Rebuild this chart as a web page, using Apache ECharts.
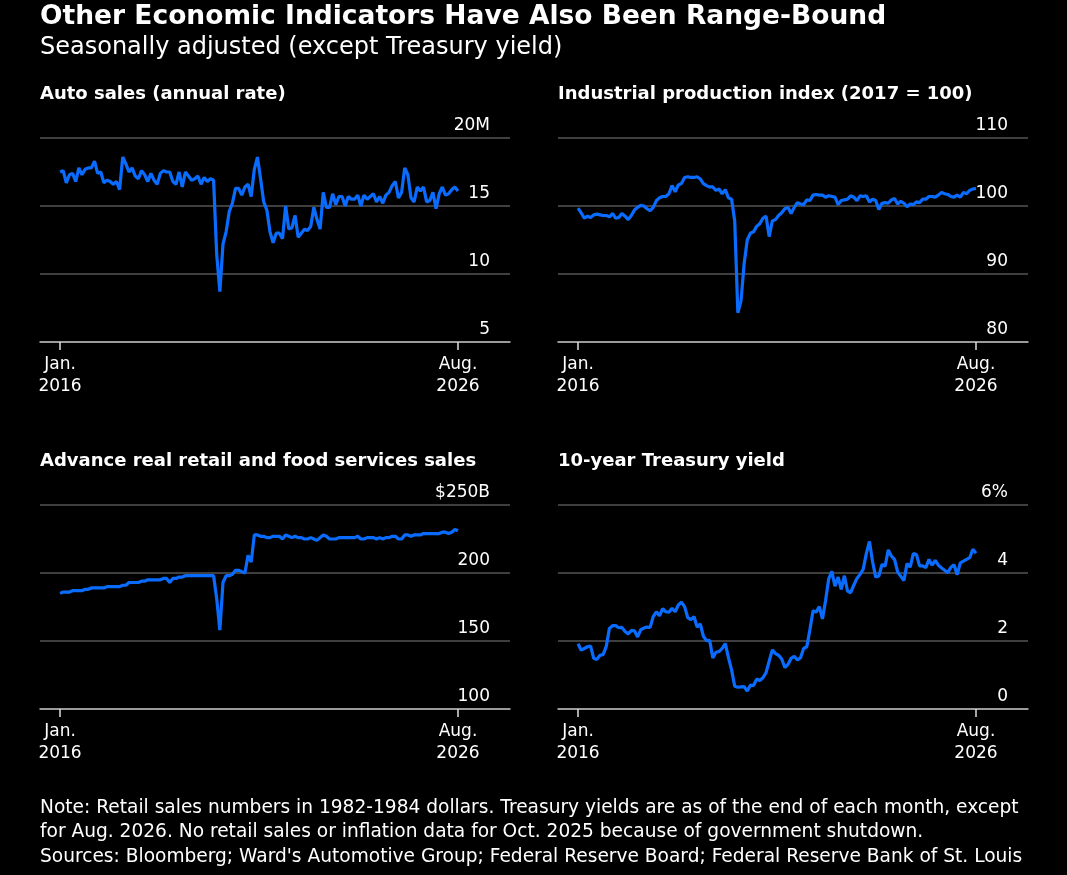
<!DOCTYPE html>
<html><head><meta charset="utf-8">
<script src="https://cdn.jsdelivr.net/npm/echarts@6/dist/echarts.min.js"></script>
<style>html,body{margin:0;background:#000;}#c{width:1067px;height:875px;}</style>
</head><body><div id="c"></div>
<script>
const autoSales = [
17.5,17.6,16.7,17.3,17.4,16.8,17.8,17.3,17.7,17.8,17.8,18.3,
17.4,17.5,16.7,16.9,16.8,16.6,16.8,16.2,18.6,18.1,17.5,17.8,
17.2,17.0,17.6,17.3,16.8,17.4,16.9,16.6,17.4,17.6,17.5,17.5,
16.8,16.6,17.5,16.4,17.5,17.2,16.9,17.0,17.2,16.6,17.1,16.8,
17.0,16.9,11.4,8.7,12.2,13.1,14.6,15.2,16.3,16.3,15.8,16.4,
16.6,15.7,17.7,18.6,17.0,15.3,14.7,13.1,12.3,13.0,13.0,12.6,
15.0,13.3,13.4,14.3,12.7,13.0,13.3,13.2,13.5,14.9,14.0,13.3,
16.0,14.9,14.9,15.9,15.1,15.7,15.7,15.0,15.7,15.5,15.5,15.8,
15.0,15.8,15.5,15.7,15.9,15.3,15.7,15.2,15.8,16.0,16.5,16.8,
15.6,16.0,17.8,17.3,15.6,15.3,16.4,16.1,16.4,15.3,15.4,16.0,
14.8,15.9,16.4,15.8,15.9,16.2,16.4,16.1];
const industrialProduction = [
99.7,99.0,98.2,98.5,98.3,98.7,98.8,98.7,98.6,98.6,98.4,98.9,
98.2,98.3,98.9,98.5,98.0,98.6,99.4,99.8,100.1,100.0,99.6,99.3,
99.8,100.8,101.2,101.4,101.4,101.8,103.0,102.1,103.1,103.3,104.2,104.3,
104.2,104.2,104.3,104.0,103.3,103.0,102.8,102.8,102.3,102.5,101.8,102.4,
101.2,101.0,97.8,84.3,86.0,91.5,95.0,96.0,96.2,97.0,97.4,98.2,
98.5,95.5,97.8,98.0,98.6,99.0,99.6,99.8,98.9,99.8,100.5,100.3,
100.2,100.9,100.8,101.6,101.7,101.6,101.6,101.3,101.5,101.4,101.3,100.2,
100.8,100.9,101.0,101.5,101.3,100.8,101.5,101.4,101.5,100.6,101.0,100.8,
99.5,100.4,100.5,100.4,100.9,101.1,100.3,100.7,100.4,99.9,100.3,100.2,
100.6,100.5,101.0,101.0,101.4,101.4,101.3,101.6,102.0,101.8,101.7,101.4,
101.3,101.6,101.3,102.0,101.8,102.3,102.5,102.6];
const retailSales = [
185,186,186,186,187,187,187,187,188,188,189,189,
189,189,189,190,190,190,190,190,191,191,193,193,
193,193,194,194,195,195,195,195,195,196,196,193,
196,196,197,197,198,198,198,198,198,198,198,198,
198,198,181,158,193,198,198,199,202,202,201,200,
213,208,228,228,227,227,226,226,227,227,227,225,
228,227,226,227,226,226,225,225,226,225,224,226,
228,227,225,225,225,226,226,226,226,226,226,227,
225,225,226,226,226,225,226,225,226,226,227,227,
225,225,228,228,227,228,228,228,229,null,229,229,
229,229,230,230,229,230,232,231];
const treasuryYield = [
1.92,1.73,1.78,1.83,1.85,1.49,1.46,1.58,1.60,1.84,2.37,2.45,
2.45,2.39,2.40,2.28,2.21,2.31,2.30,2.12,2.33,2.38,2.41,2.40,
2.72,2.86,2.74,2.95,2.86,2.85,2.96,2.86,3.06,3.14,3.01,2.69,
2.63,2.72,2.41,2.50,2.14,2.01,2.02,1.50,1.67,1.69,1.78,1.92,
1.51,1.15,0.67,0.64,0.65,0.66,0.53,0.70,0.69,0.88,0.84,0.92,
1.07,1.41,1.74,1.63,1.58,1.47,1.22,1.31,1.49,1.55,1.44,1.51,
1.78,1.83,2.34,2.89,2.85,3.01,2.65,3.19,3.83,4.05,3.61,3.88,
3.52,3.92,3.47,3.42,3.64,3.84,3.96,4.11,4.57,4.93,4.33,3.88,
3.91,4.25,4.20,4.68,4.50,4.40,4.03,3.90,3.78,4.28,4.17,4.57,
4.54,4.21,4.21,4.16,4.40,4.23,4.37,4.23,4.15,4.08,4.01,4.17,
4.24,3.95,4.30,4.35,4.40,4.45,4.70,4.58];
const xTickLabels = {0:'Jan.\n2016', 127:'Aug.\n2026'};
const panels = [
 {title:'Auto sales (annual rate)', data:autoSales, min:5, max:20, interval:5, fmt:v=>v===20?'20M':String(v)},
 {title:'Industrial production index (2017 = 100)', data:industrialProduction, min:80, max:110, interval:10, fmt:v=>String(v)},
 {title:'Advance real retail and food services sales', data:retailSales, min:100, max:250, interval:50, fmt:v=>v===250?'$250B':String(v)},
 {title:'10-year Treasury yield', data:treasuryYield, min:0, max:6, interval:2, fmt:v=>v===6?'6%':String(v)}
];
const font = 'DejaVu Sans, Verdana, sans-serif';
const pos = [[40,138],[558,138],[40,505],[558,505]];
const grid=[],xAxis=[],yAxis=[],series=[],graphic=[];
panels.forEach((p,i)=>{
  const [l,t]=pos[i];
  grid.push({left:l,top:t,width:470,height:204});
  xAxis.push({gridIndex:i,type:'value',min:-6.4,max:143.6,
    axisLine:{show:true,lineStyle:{color:'#bbb',width:1.5}},
    splitLine:{show:false},
    axisTick:{show:true,customValues:[0,127],length:8,lineStyle:{color:'#ddd',width:1.5}},
    axisLabel:{customValues:[0,127],formatter:v=>xTickLabels[v]||'',color:'#fff',fontSize:17,fontFamily:font,lineHeight:22,margin:12}});
  yAxis.push({gridIndex:i,type:'value',position:'right',min:p.min,max:p.max,interval:p.interval,
    axisLine:{show:false},axisTick:{show:false},
    splitLine:{lineStyle:{color:'#555',width:1.5}},
    axisLabel:{inside:true,formatter:p.fmt,color:'#fff',fontSize:17,fontFamily:font,margin:20,verticalAlign:'bottom',padding:[0,0,4,0]}});
  series.push({type:'line',xAxisIndex:i,yAxisIndex:i,data:p.data.map((v,k)=>[k,v]),showSymbol:false,connectNulls:true,
    lineStyle:{color:'#0a6cff',width:3.2},animation:false});
  graphic.push({type:'text',left:l,top:t-53,style:{text:p.title,fill:'#fff',font:'bold 18px '+font}});
});
graphic.push({type:'text',left:40,top:4,style:{text:'Other Economic Indicators Have Also Been Range-Bound',fill:'#fff',font:'bold 26.5px '+font}});
graphic.push({type:'text',left:40,top:36,style:{text:'Seasonally adjusted (except Treasury yield)',fill:'#fff',font:'24px '+font}});
graphic.push({type:'text',left:40,top:796,style:{text:'Note: Retail sales numbers in 1982-1984 dollars. Treasury yields are as of the end of each month, except\nfor Aug. 2026. No retail sales or inflation data for Oct. 2025 because of government shutdown.',fill:'#fff',font:'18.6px '+font,lineHeight:24}});
graphic.push({type:'text',left:40,top:848,style:{text:"Sources: Bloomberg; Ward's Automotive Group; Federal Reserve Board; Federal Reserve Bank of St. Louis",fill:'#fff',font:'18.6px '+font}});
const chart = echarts.init(document.getElementById('c'));
chart.setOption({backgroundColor:'#000',animation:false,grid,xAxis,yAxis,series,graphic});
</script></body></html>
